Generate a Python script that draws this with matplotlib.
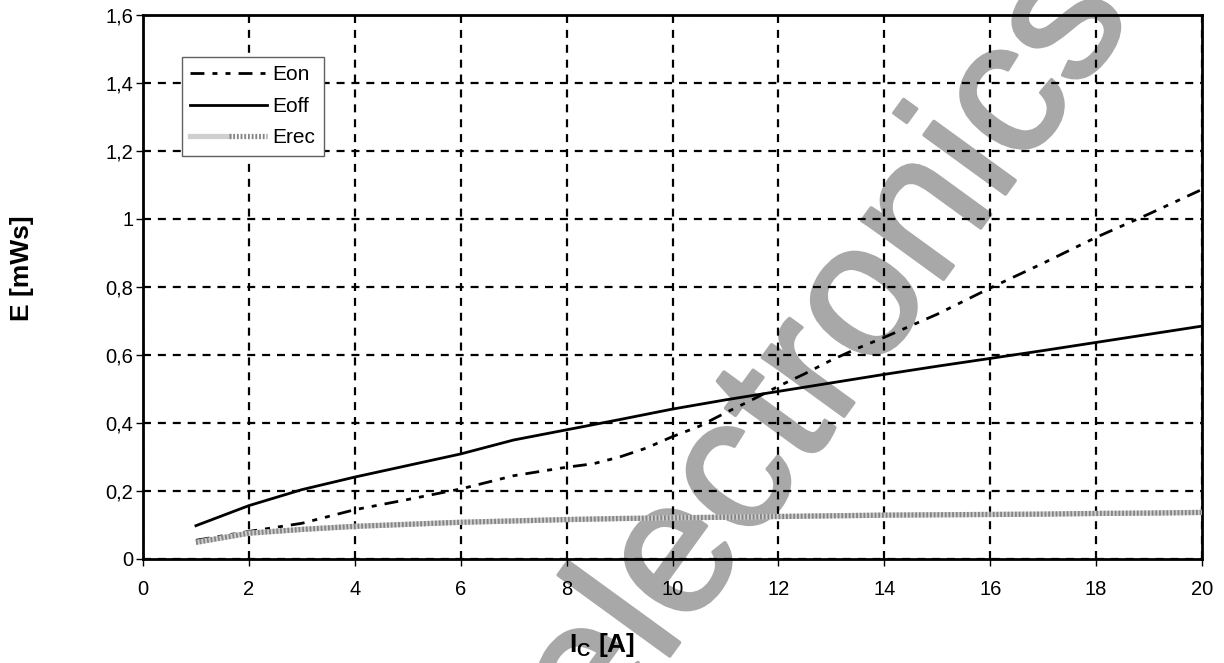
import matplotlib
matplotlib.use("Agg")
import matplotlib.pyplot as plt
import matplotlib.patheffects as pe
from matplotlib.lines import Line2D
from matplotlib.legend_handler import HandlerTuple
from matplotlib.ticker import FuncFormatter

plt.rcParams['font.family'] = ['Liberation Sans', 'DejaVu Sans']
plt.rcParams['mathtext.fontset'] = 'custom'
plt.rcParams['mathtext.bf'] = 'Liberation Sans:bold'
plt.rcParams['mathtext.rm'] = 'Liberation Sans'

# data
ic_on = [1, 2, 3, 4, 5, 6, 7, 8, 8.5, 9, 9.5, 10, 10.5, 11, 11.5, 12, 12.5,
         13, 13.5, 14, 15, 16, 17, 18, 19, 20]
e_on = [0.055, 0.081, 0.105, 0.145, 0.175, 0.206, 0.245, 0.27, 0.28, 0.30,
        0.326, 0.36, 0.39, 0.43, 0.468, 0.508, 0.545, 0.585, 0.62, 0.652,
        0.72, 0.797, 0.87, 0.946, 1.015, 1.087]

ic = list(range(1, 21))
e_off = [0.098, 0.157, 0.204, 0.241, 0.275, 0.309, 0.35, 0.38, 0.41, 0.441,
         0.468, 0.493, 0.518, 0.543, 0.567, 0.59, 0.613, 0.637, 0.661, 0.685]
e_rec = [0.049, 0.076, 0.087, 0.096, 0.102, 0.108, 0.112, 0.116, 0.119, 0.121,
         0.123, 0.125, 0.127, 0.129, 0.130, 0.131, 0.132, 0.134, 0.135, 0.137]

x_ticks = list(range(0, 21, 2))
y_ticks = [0, 0.2, 0.4, 0.6, 0.8, 1.0, 1.2, 1.4, 1.6]

fig = plt.figure(figsize=(12.24, 6.63), dpi=100)
ax = fig.add_axes([143 / 1224, 1 - 559 / 663, 1059 / 1224, 544 / 663])

# watermark
wm_color = '#a8a8a8'
ax.text(600 / 1224, 1 - 752 / 663, "electronics", transform=fig.transFigure,
        fontsize=137, color=wm_color, rotation=54, rotation_mode='anchor',
        ha='left', va='baseline', zorder=0.5, clip_on=False,
        path_effects=[pe.withStroke(linewidth=2.5, foreground=wm_color)])

dash_on = (0, (5, 2.9, 1.8, 2.9, 1.8, 2.9))
ax.plot(ic_on, e_on, color='black', lw=2.0, linestyle=dash_on, zorder=3)
ax.plot(ic, e_off, color='black', lw=2.0, zorder=3)
ax.plot(ic, e_rec, color='#cfcfcf', lw=3.8, zorder=3, solid_capstyle='butt')
ax.plot(ic, e_rec, color='#858585', lw=3.8, linestyle=(0, (0.35, 0.35)), zorder=3)

ax.set_xlim(0, 20)
ax.set_ylim(0, 1.6)
ax.set_xticks(x_ticks)
ax.set_yticks(y_ticks)
ax.yaxis.set_major_formatter(FuncFormatter(lambda v, p: f"{v:g}".replace('.', ',')))
ax.grid(True, color='black', lw=1.6, linestyle=(0, (3.6, 3.1)))
for s in ax.spines.values():
    s.set_linewidth(2.0)
ax.tick_params(axis='both', direction='out', length=5, width=1, labelsize=14.5)
ax.tick_params(axis='x', pad=10)
ax.tick_params(axis='y', pad=2)

fig.text(602 / 1224, 1 - 645 / 663, r'$\mathbf{I}_\mathbf{C}$ [A]', fontsize=19,
         fontweight='bold', ha='center', va='center')
fig.text(22 / 1224, 1 - 268 / 663, 'E [mWs]', fontsize=19, fontweight='bold',
         rotation=90, ha='center', va='center')

h_on = Line2D([], [], color='black', lw=2.0, linestyle=dash_on)
h_off = Line2D([], [], color='black', lw=2.0)
h_rec = (Line2D([], [], color='#cfcfcf', lw=3.8),
         Line2D([], [], color='#858585', lw=3.8, linestyle=(0, (0.35, 0.35))))
leg = ax.legend([h_on, h_off, h_rec], ['Eon', 'Eoff', 'Erec'],
                handler_map={tuple: HandlerTuple(ndivide=None, pad=0)},
                loc='upper left', bbox_to_anchor=((182 - 143) / 1059, 1 - (57 - 15) / 544),
                borderaxespad=0, fontsize=15, handlelength=3.7, handletextpad=0.25,
                borderpad=0.4, labelspacing=0.6, fancybox=False, framealpha=1)
leg.get_frame().set_edgecolor('#606060')
leg.get_frame().set_linewidth(1.0)
leg.set_zorder(5)

fig.savefig('out.png', dpi=100)
